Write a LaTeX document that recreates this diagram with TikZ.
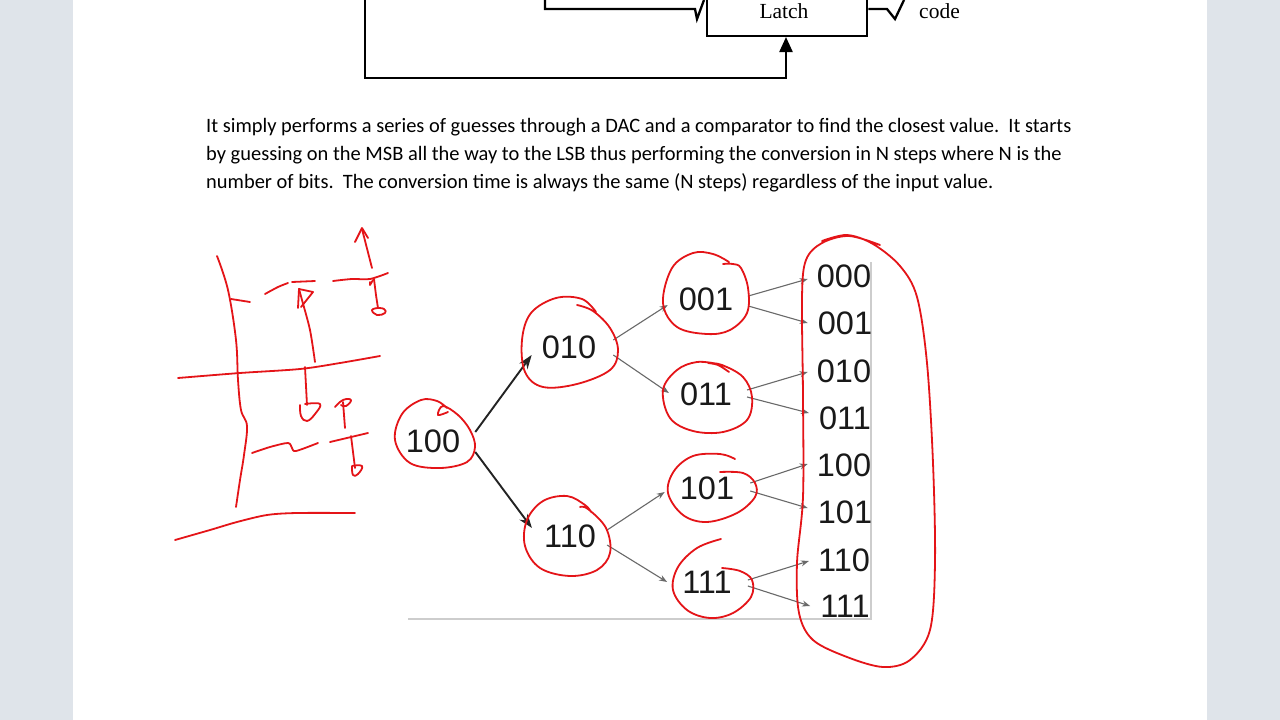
\documentclass[tikz,border=0pt]{standalone}
\usepackage{fontspec}
\setmainfont{Carlito}
\newfontfamily\timesf{Liberation Serif}
\newfontfamily\arialf{Liberation Sans}
\usetikzlibrary{arrows.meta}
\definecolor{bgc}{RGB}{223,228,234}
\definecolor{pen}{RGB}{228,20,24}
\definecolor{axisc}{RGB}{205,205,205}
\definecolor{darkarr}{RGB}{35,35,35}
\definecolor{grayarr}{RGB}{105,105,105}
\begin{document}
\begin{tikzpicture}[x=1pt,y=-1pt,
  blk/.style={draw=black,line width=2.3pt},
  bit/.style={font=\arialf\fontsize{32.5}{32}\selectfont, text=black!90, inner xsep=13pt, inner ysep=4pt},
  leaf/.style={font=\arialf\fontsize{32.5}{32}\selectfont, text=black!90, inner xsep=13pt, inner ysep=2pt},
  darrow/.style={darkarr, line width=1.9pt, -{Stealth[length=14pt,width=10pt]}},
  garrow/.style={grayarr, line width=1.1pt, -{Stealth[length=8pt,width=6pt]}},
  redpen/.style={pen, line width=1.8pt, line cap=round, line join=round},
  para/.style={font=\fontsize{20.45}{28}\selectfont, anchor=base west, inner sep=0pt}
]
\useasboundingbox (0,0) rectangle (1280,720);
\clip (0,0) rectangle (1280,720);
\fill[bgc] (0,0) rectangle (1280,720);
\fill[white] (73,0) rectangle (1207,720);

% ---------- block diagram (top) ----------
\node[blk, anchor=south west, minimum width=160pt, minimum height=56pt, inner sep=0pt] (latch) at (706,37) {};
\node[font=\timesf\fontsize{21.5}{22}\selectfont, inner sep=0pt] (latchtxt) at (784,11) {Latch};
\node[font=\timesf\fontsize{21.5}{22}\selectfont, inner sep=0pt, anchor=west] (codetxt) at (919,11) {code};
\coordinate (inA) at (545,-5);
\coordinate (inB) at (695,9);
\draw[blk, line join=miter] (inA) |- (inB) -- (697,19) -- (704,0);
\coordinate (outB) at (887,9);
\draw[blk, line join=miter] (latch.east |- outB) -- (outB) -- (895,19) -- (904,0);
\coordinate (fbA) at (365,-5);
\coordinate (fbB) at (786,78);
\draw[blk, -{Triangle[length=15pt,width=13pt]}] (fbA) |- (fbB) -- (latch.south -| fbB);

% ---------- paragraph ----------
\node[para] (l1) at (206,132) {It simply performs a series of guesses through a DAC and a comparator to find the closest value.\ \ It starts};
\node[para] (l2) at (206,160) {by guessing on the MSB all the way to the LSB thus performing the conversion in N steps where N is the};
\node[para] (l3) at (206,188) {number of bits.\ \ The conversion time is always the same (N steps) regardless of the input value.};

% ---------- tree ----------
\coordinate (axO) at (871,619);
\coordinate (axL) at (408,619);
\coordinate (axT) at (871,262);
\draw[axisc, line width=1.6pt] (axL) -- (axO) -- (axT);

\node[bit] (n100) at (433,441) {100};
\node[bit] (n010) at (569,347) {010};
\node[bit] (n110) at (570,536) {110};
\node[bit] (n001) at (706,299) {001};
\node[bit] (n011) at (706,394) {011};
\node[bit] (n101) at (707,488) {101};
\node[bit] (n111) at (707,582) {111};
\node[leaf] (m000) at (844,276) {000};
\node[leaf] (m001) at (845,323) {001};
\node[leaf] (m010) at (844,371) {010};
\node[leaf] (m011) at (845,418) {011};
\node[leaf] (m100) at (844,465) {100};
\node[leaf] (m101) at (845,512) {101};
\node[leaf] (m110) at (844,560) {110};
\node[leaf] (m111) at (845,606) {111};

\draw[darrow] ([xshift=2pt,yshift=9pt]n100.east) -- ([xshift=3pt,yshift=-8pt]n010.west);
\draw[darrow] ([xshift=2pt,yshift=-11pt]n100.east) -- ([xshift=1pt,yshift=8pt]n110.west);

\draw[garrow] ([xshift=4pt,yshift=7pt]n010.east) -- ([xshift=2pt,yshift=-6pt]n001.west);
\draw[garrow] ([xshift=4pt,yshift=-8pt]n010.east) -- ([xshift=2pt,yshift=1pt]n011.west);
\draw[garrow] ([xshift=-2pt,yshift=6pt]n110.east) -- ([xshift=-2pt,yshift=-4pt]n101.west);
\draw[garrow] ([xshift=-2pt,yshift=-9pt]n110.east) -- ([xshift=-2pt,yshift=0pt]n111.west);

\draw[garrow] ([xshift=2pt,yshift=3pt]n001.east) -- ([xshift=4pt,yshift=-3pt]m000.west);
\draw[garrow] ([xshift=2pt,yshift=-7pt]n001.east) -- ([xshift=3pt,yshift=0pt]m001.west);
\draw[garrow] ([xshift=2pt,yshift=4pt]n011.east) -- ([xshift=4pt,yshift=-1pt]m010.west);
\draw[garrow] ([xshift=2pt,yshift=-3pt]n011.east) -- ([xshift=3pt,yshift=5pt]m011.west);
\draw[garrow] ([xshift=3pt,yshift=5pt]n101.east) -- ([xshift=4pt,yshift=1pt]m100.west);
\draw[garrow] ([xshift=3pt,yshift=-3pt]n101.east) -- ([xshift=3pt,yshift=4pt]m101.west);
\draw[garrow] ([xshift=3pt,yshift=2pt]n111.east) -- ([xshift=4pt,yshift=-1pt]m110.west);
\draw[garrow] ([xshift=3pt,yshift=-4pt]n111.east) -- ([xshift=3pt,yshift=0pt]m111.west);

% ---------- red annotations: circles ----------
\draw[redpen] plot[smooth, tension=0.6] coordinates {(448,412) (438,415) (443,406) (458,415) (470,430) (475,447) (467,462) (440,468) (410,463) (395,440) (402,414) (421,400) (437,401) (447,408)};
\draw[redpen] plot[smooth, tension=0.6] coordinates {(577,305) (593,311) (610,328) (618,350) (610,370) (577,384) (543,387) (525,372) (522,340) (531,313) (556,298) (582,299) (596,312)};
\draw[redpen] plot[smooth, tension=0.6] coordinates {(580,507) (588,509) (606,528) (610,553) (597,570) (570,576) (540,568) (525,546) (527,520) (543,501) (567,496) (585,505) (591,512)};
\draw[redpen] plot[smooth, tension=0.6] coordinates {(723,264) (733,264) (741,268) (748,288) (747,313) (730,330) (707,334) (677,327) (663,303) (672,268) (693,253) (713,254) (729,262)};
\draw[redpen] plot[smooth, tension=0.6] coordinates {(729,372) (718,365) (708,363) (722,365) (743,377) (752,397) (747,420) (723,432) (693,431) (670,418) (663,390) (677,370) (697,362) (718,364)};
\draw[redpen] plot[smooth, tension=0.6] coordinates {(735,459) (720,454) (693,456) (674,471) (668,493) (683,515) (707,522) (737,513) (755,497) (755,483) (743,473) (720,472)};
\draw[redpen] plot[smooth, tension=0.6] coordinates {(721,539) (697,548) (678,567) (673,590) (687,610) (710,618) (733,613) (751,597) (752,580) (740,571) (722,568)};
\draw[redpen] plot[smooth, tension=0.55] coordinates {(822,241) (847,235) (873,244) (900,266) (917,297) (927,363) (933,463) (935,563) (930,630) (910,660) (883,667) (847,657) (813,640) (799,613) (797,563) (803,497) (803,397) (802,297) (806,260) (822,243) (849,236) (880,245)};

% ---------- red annotations: left scribbles ----------
\draw[redpen] plot[smooth, tension=0.6] coordinates {(217,256) (228,290) (236,340) (238,380) (241,410) (247,426) (244,455) (240,480) (236,507)};
\draw[redpen] (231,299) -- (250,302);
\draw[redpen] plot[smooth] coordinates {(265,294) (278,287) (288,283)};
\draw[redpen] (292,282) -- (315,281);
\draw[redpen] plot[smooth] coordinates {(333,281) (352,279) (370,279) (388,273)};
% up arrow with flag
\draw[redpen] plot[smooth] coordinates {(315,362) (310,330) (302,300) (299,289)};
\draw[redpen] (299,289) -- (298,308);
\draw[redpen] (299,289) -- (313,292) -- (301,307);
% top arrow
\draw[redpen] (372,268) -- (362,229);
\draw[redpen] (355,242) -- (362,228) -- (368,238);
\draw[redpen] (370,282) -- (370,285) -- (373,280);
% short tick down with loop
\draw[redpen] plot[smooth] coordinates {(374,279) (376,295) (378,308)};
\draw[redpen] plot[smooth, tension=0.8] coordinates {(378,308) (372,310) (377,315) (385,313) (384,309) (378,308)};
% long horizontal line
\draw[redpen] plot[smooth] coordinates {(178,378) (240,373) (300,369) (340,363) (380,356)};
% down arrow with U
\draw[redpen] (305,367) -- (307,405);
\draw[redpen] plot[smooth, tension=0.7] coordinates {(300,405) (301,416) (307,421) (315,414) (320,404) (305,404)};
% P up
\draw[redpen] (345,428) -- (343,402);
\draw[redpen] plot[smooth, tension=0.8] coordinates {(335,407) (343,400) (351,400) (346,406) (341,405)};
% squiggle line
\draw[redpen] plot[smooth] coordinates {(252,453) (270,447) (288,443) (292,448) (296,451) (318,443)};
\draw[redpen] (330,442) -- (368,433);
% down tick with loop
\draw[redpen] (351,436) -- (355,468);
\draw[redpen] plot[smooth, tension=0.8] coordinates {(352,466) (353,475) (358,474) (362,466) (352,466)};
% bottom line
\draw[redpen] plot[smooth] coordinates {(175,540) (210,530) (237,522) (267,515) (297,513) (355,513)};
\end{tikzpicture}
\end{document}
